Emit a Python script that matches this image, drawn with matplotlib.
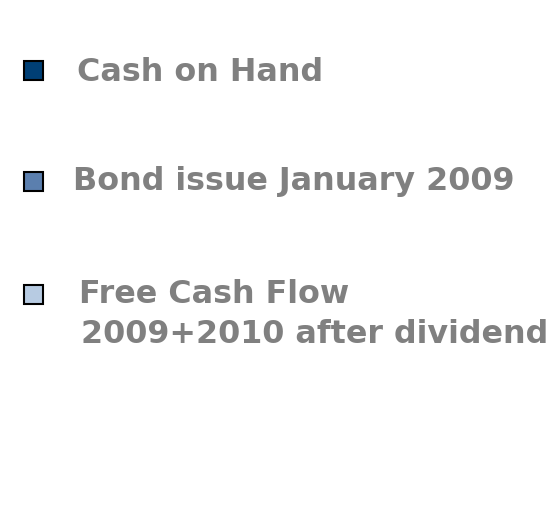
import matplotlib
matplotlib.use("Agg")
import matplotlib.pyplot as plt
from matplotlib.patches import Rectangle

# Legend entries
labels = ["Cash on Hand", "Bond issue January 2009", "Free Cash Flow\n2009+2010 after dividend"]
colors = ["#003f75", "#5b7fae", "#b7cbe2"]

W, H = 551, 512
fig = plt.figure(figsize=(W / 100, H / 100), dpi=100)
ax = fig.add_axes([0, 0, 1, 1])
ax.set_xlim(0, W)
ax.set_ylim(H, 0)
ax.axis("off")

# layout in pixel units
square_x = 23.5
square_size = 19.0
row_centers = [70.5, 181.7, 294.0]
baselines = [81, 190, 303]
text_x = [[77], [73], [79, 81]]
line_gap = 40

for lab, col, yc, yb, txs in zip(labels, colors, row_centers, baselines, text_x):
    ax.add_patch(Rectangle((square_x, yc - square_size / 2), square_size, square_size,
                           facecolor=col, edgecolor="black", linewidth=1.5))
    for i, line in enumerate(lab.split("\n")):
        ax.text(txs[i], yb + i * line_gap, line, fontsize=22.9, fontweight="bold",
                color="#808080", family="DejaVu Sans", ha="left", va="baseline")

fig.savefig("out.png", dpi=100, facecolor="white")
